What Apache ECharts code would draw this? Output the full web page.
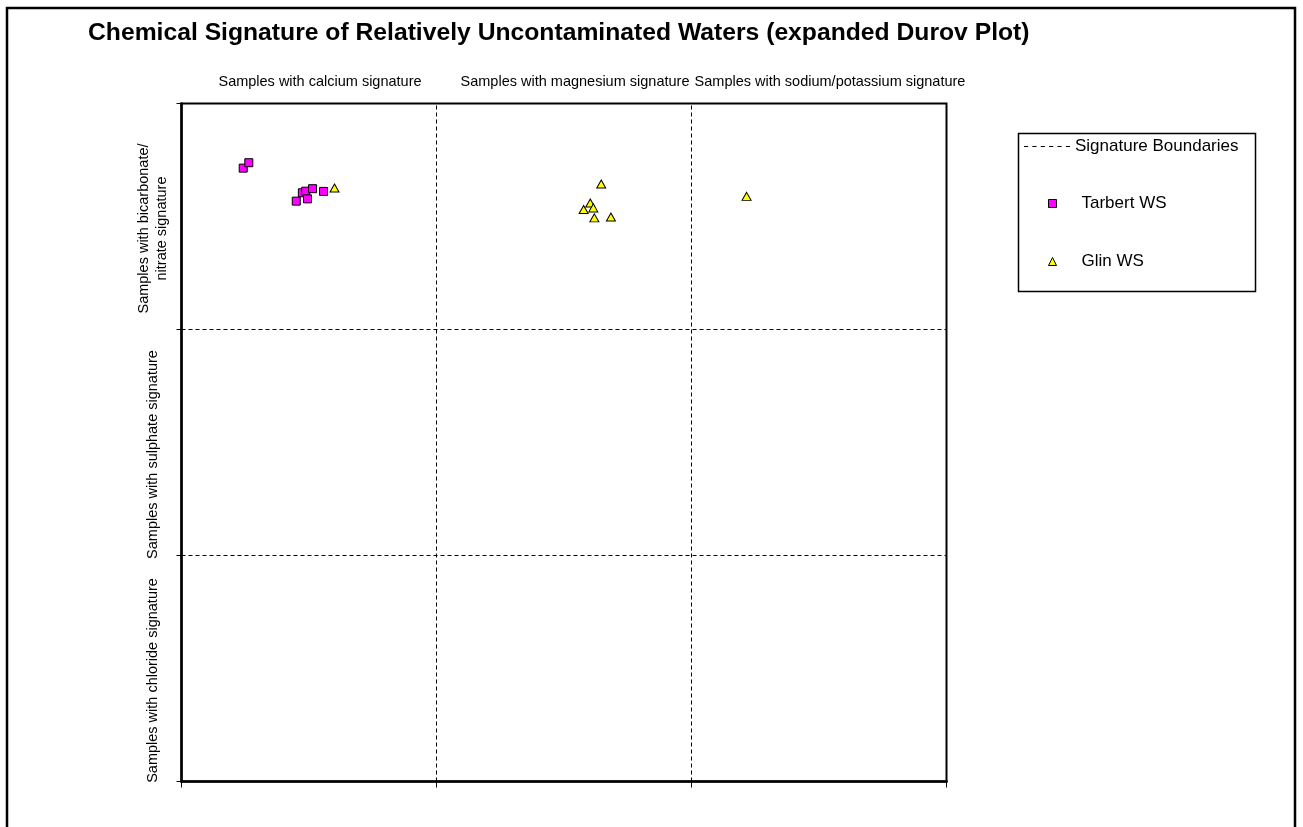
<!DOCTYPE html>
<html>
<head>
<meta charset="utf-8">
<script src="https://cdn.jsdelivr.net/npm/echarts@6/dist/echarts.min.js"></script>
<style>
html,body{margin:0;padding:0;background:#fff;}
#chart{width:1303px;height:827px;}
</style>
</head>
<body>
<div id="chart"></div>
<script>
// Column (cation) and row (anion) signature labels
const columnLabels = ['Samples with calcium signature', 'Samples with magnesium signature', 'Samples with sodium/potassium signature'];
const rowLabels = ['Samples with chloride signature', 'Samples with sulphate signature', 'Samples with bicarbonate/\nnitrate signature'];

// Signature boundaries (dashed grid lines), null = break
const boundaryX = [100, 100, null, 200, 200, null, 0, 300, null, 0, 300];
const boundaryY = [0, 300, null, 0, 300, null, 100, 100, null, 200, 200];

// Tarbert WS samples
const tarbertX = [24.2, 26.4, 45.0, 47.4, 48.7, 49.4, 51.4, 55.7];
const tarbertY = [271.4, 273.8, 256.8, 260.5, 261.2, 257.8, 262.3, 261.1];

// Glin WS samples
const glinX = [60.0, 164.6, 160.3, 161.5, 157.7, 161.9, 168.4, 221.6];
const glinY = [262.6, 264.4, 256.0, 253.8, 253.1, 249.4, 249.8, 258.9];

const FONT = 'Liberation Sans, Arial, sans-serif';
const zip = (xs, ys) => xs.map((x, i) => (x === null ? ['-', '-'] : [x, ys[i]]));

// dashed-line legend icon (six short dashes)
let dashIcon = 'path://';
for (let i = 0; i < 6; i++) dashIcon += 'M' + (i * 8) + ',0h4v1h-4z';

const chart = echarts.init(document.getElementById('chart'));
chart.setOption({
  backgroundColor: '#ffffff',
  animation: false,
  textStyle: { fontFamily: FONT, color: '#000' },
  title: {
    text: 'Chemical Signature of Relatively Uncontaminated Waters (expanded Durov Plot)',
    left: 83, top: 16,
    textStyle: { fontFamily: FONT, fontSize: 24.7, fontWeight: 'bold', color: '#000' }
  },
  graphic: [
    { type: 'rect', shape: { x: 7, y: 8, width: 1288, height: 900 },
      style: { fill: null, stroke: '#000', lineWidth: 2.5 }, silent: true },
    { type: 'rect', shape: { x: 1018.5, y: 133.5, width: 237, height: 158 },
      style: { fill: null, stroke: '#000', lineWidth: 1.5 }, silent: true }
  ],
  legend: [
    {
      data: [{ name: 'Signature Boundaries', icon: dashIcon, itemStyle: { color: '#000', borderWidth: 0 } }],
      left: 1019, top: 133,
      itemWidth: 46, itemHeight: 14,
      textStyle: { fontFamily: FONT, fontSize: 17, color: '#000' },
      selectedMode: false
    },
    {
      data: [
        { name: 'Tarbert WS', icon: 'path://M0,0L10,0L10,10L0,10Z',
          itemStyle: { color: '#ff00ff', borderColor: '#000', borderWidth: 1 } },
        { name: 'Glin WS', icon: 'path://M5,0L10,10L0,10Z',
          itemStyle: { color: '#ffff00', borderColor: '#000', borderWidth: 1 } }
      ],
      orient: 'vertical',
      left: 1043, top: 190,
      itemWidth: 48, itemHeight: 8, itemGap: 41,
      textStyle: { fontFamily: FONT, fontSize: 17, lineHeight: 16, color: '#000' },
      selectedMode: false
    }
  ],
  grid: { left: 181.5, right: 356.5, top: 103.5, bottom: 45.5, show: true, borderColor: '#000', borderWidth: 2, backgroundColor: 'transparent' },
  xAxis: [
    {
      type: 'value', position: 'bottom', min: 0, max: 300, interval: 100,
      axisLine: { show: true, onZero: false, lineStyle: { color: '#000', width: 2.5 } },
      axisTick: { show: true, length: 6, lineStyle: { color: '#000', width: 1 } },
      axisLabel: { show: false }, splitLine: { show: false }
    },
    {
      type: 'category', position: 'top', data: columnLabels,
      axisLine: { show: false }, axisTick: { show: false }, splitLine: { show: false },
      axisLabel: { interval: 0, margin: 14, fontFamily: FONT, fontSize: 14.5, color: '#000', padding: [0, 0, 0, 22] }
    }
  ],
  yAxis: [
    {
      type: 'value', position: 'left', min: 0, max: 300, interval: 100,
      axisLine: { show: true, onZero: false, lineStyle: { color: '#000', width: 2.5 } },
      axisTick: { show: true, length: 5, lineStyle: { color: '#000', width: 1 } },
      axisLabel: { show: false }, splitLine: { show: false }
    },
    {
      type: 'category', position: 'left', data: rowLabels,
      axisLine: { show: false }, axisTick: { show: false }, splitLine: { show: false },
      axisLabel: { interval: 0, rotate: 90, margin: 29, verticalAlign: 'middle', align: 'center',
        fontFamily: FONT, fontSize: 14.5, lineHeight: 18, color: '#000', padding: [0, 24, 0, 0] }
    }
  ],
  series: [
    {
      name: 'Signature Boundaries', type: 'line', xAxisIndex: 0, yAxisIndex: 0,
      data: zip(boundaryX, boundaryY), symbol: 'none', connectNulls: false,
      lineStyle: { color: '#000', width: 1, type: [4, 3] },
      itemStyle: { color: '#000' }, z: 1
    },
    {
      name: 'Tarbert WS', type: 'scatter', xAxisIndex: 0, yAxisIndex: 0,
      data: zip(tarbertX, tarbertY), symbol: 'rect', symbolSize: 8,
      itemStyle: { color: '#ff00ff', borderColor: '#000', borderWidth: 1, opacity: 1 }, z: 3
    },
    {
      name: 'Glin WS', type: 'scatter', xAxisIndex: 0, yAxisIndex: 0,
      data: zip(glinX, glinY), symbol: 'triangle', symbolSize: [9, 8],
      itemStyle: { color: '#ffff00', borderColor: '#000', borderWidth: 1, opacity: 1 }, z: 3
    }
  ]
});
</script>
</body>
</html>
